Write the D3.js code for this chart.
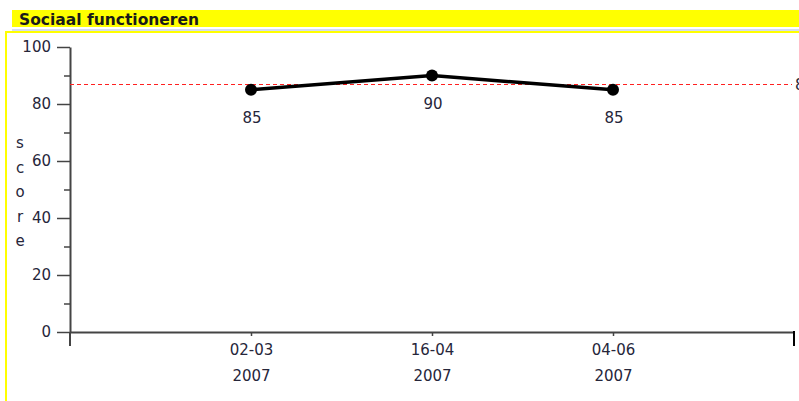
<!DOCTYPE html>
<html><head><meta charset="utf-8">
<script src="https://cdn.jsdelivr.net/npm/d3@7"></script>
<style>html,body{margin:0;padding:0;background:#fff;overflow:hidden}svg{display:block}</style>
</head><body>
<script>
const title = "Sociaal functioneren";
const categories = [["02-03","2007"],["16-04","2007"],["04-06","2007"]];
const values = [85, 90, 85];
const refValue = 87;
const yMajorTicks = [0, 20, 40, 60, 80, 100];
const yMinorTicks = [10, 30, 50, 70, 90];
const yAxisLetters = ["s","c","o","r","e"];

const W = 799, H = 401;
const svg = d3.select("body").append("svg").attr("width", W).attr("height", H);
const font = "'DejaVu Sans', Verdana, sans-serif";
const txt = "#26263a";

// frame
svg.append("rect").attr("x",12).attr("y",10).attr("width",W-12).attr("height",17).attr("fill","#ffff00");
svg.append("text").attr("x",19).attr("y",24.5).attr("font-family",font).attr("font-weight","bold")
  .attr("font-size",15.5).attr("fill","#1a1a1a").text(title);
svg.append("rect").attr("x",12).attr("y",29).attr("width",W-12).attr("height",2).attr("fill","#d4dcf0");
svg.append("rect").attr("x",5).attr("y",31).attr("width",W-5).attr("height",2).attr("fill","#ffff00");
svg.append("rect").attr("x",5).attr("y",31).attr("width",2).attr("height",H-31).attr("fill","#ffff00");

const x = d3.scaleLinear().domain([0, categories.length + 1]).range([70, 794]);
const y = d3.scaleLinear().domain([0, 100]).range([332, 47]);

// y minor ticks
svg.append("g").attr("transform","translate(70,0)")
  .call(d3.axisLeft(y).tickValues(yMinorTicks).tickSize(6).tickSizeOuter(0).tickFormat(""))
  .call(g=>g.select(".domain").remove())
  .call(g=>g.selectAll("line").attr("stroke","#444").attr("stroke-width",1.5));
// y major
const ya = svg.append("g").attr("transform","translate(70,0)")
  .call(d3.axisLeft(y).tickValues(yMajorTicks).tickSize(13).tickSizeOuter(0).tickPadding(6));
ya.selectAll("line").attr("stroke","#444").attr("stroke-width",1.5);
ya.select(".domain").attr("stroke","#444").attr("stroke-width",2);
ya.selectAll("text").attr("font-family",font).attr("font-size",15).attr("fill",txt);
svg.append("line").attr("x1",70).attr("x2",70).attr("y1",y(0)).attr("y2",346).attr("stroke","#444").attr("stroke-width",2);

// x axis
const xa = svg.append("g").attr("transform",`translate(0,${y(0)})`)
  .call(d3.axisBottom(x).tickValues(d3.range(1, categories.length+1)).tickSize(4).tickSizeOuter(0).tickFormat(""));
xa.selectAll("line").attr("stroke","#444").attr("stroke-width",1.5);
xa.select(".domain").attr("stroke","#444").attr("stroke-width",2);
xa.selectAll(".tick").each(function(d){
  const t = d3.select(this).append("text").attr("font-family",font).attr("font-size",15)
    .attr("fill",txt).attr("text-anchor","middle");
  t.append("tspan").attr("x",0).attr("y",23).text(categories[d-1][0]);
  t.append("tspan").attr("x",0).attr("y",49).text(categories[d-1][1]);
});
svg.append("line").attr("x1",x(categories.length+1)).attr("x2",x(categories.length+1))
  .attr("y1",y(0)-1).attr("y2",346).attr("stroke","#000").attr("stroke-width",2);

// y axis title
svg.append("g").selectAll("text").data(yAxisLetters).join("text")
  .attr("x",20).attr("y",(d,i)=>148+i*24.5).attr("text-anchor","middle")
  .attr("font-family",font).attr("font-size",15).attr("fill",txt).text(d=>d);

// reference line
const ry = Math.floor(y(refValue)) + 0.5;
svg.append("line").attr("x1",x(0)).attr("x2",792).attr("y1",ry).attr("y2",ry)
  .attr("stroke","#ff2020").attr("stroke-width",1).attr("stroke-dasharray","4,3");
svg.append("text").attr("x",795).attr("y",ry).attr("dy","0.35em")
  .attr("font-family",font).attr("font-size",15).attr("fill",txt).text(refValue);

// series
const pts = values.map((v,i)=>[x(i+1), y(v)]);
svg.append("path").attr("d", d3.line()(pts)).attr("fill","none").attr("stroke","#000").attr("stroke-width",3.5);
svg.append("g").selectAll("circle").data(values).join("circle")
  .attr("cx",(d,i)=>x(i+1)).attr("cy",d=>y(d)).attr("r",6).attr("fill","#000");
svg.append("g").selectAll("text").data(values).join("text")
  .attr("x",(d,i)=>x(i+1)+1).attr("y",d=>y(d)+33).attr("text-anchor","middle")
  .attr("font-family",font).attr("font-size",15).attr("fill",txt).text(d=>d);
</script>
</body></html>
